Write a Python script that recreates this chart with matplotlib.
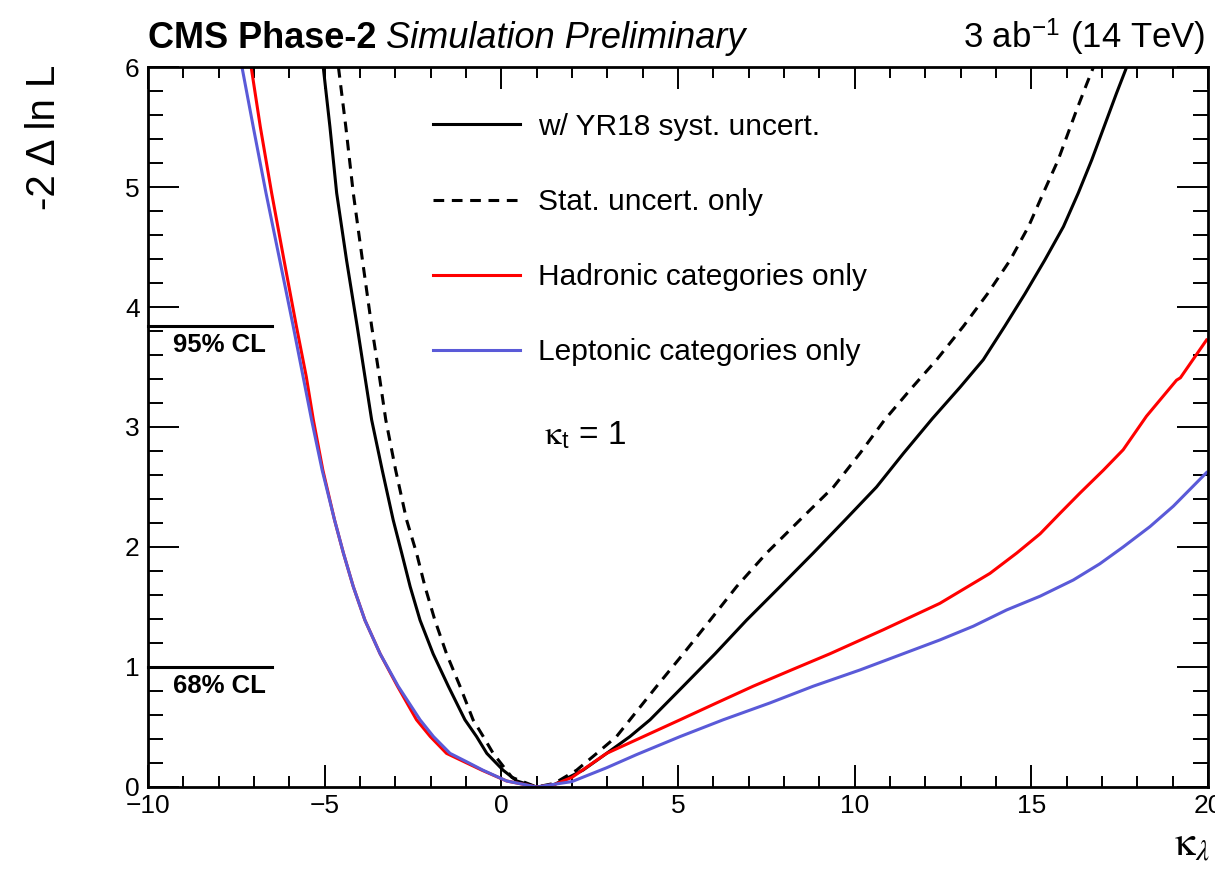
import matplotlib
matplotlib.use("Agg")
import matplotlib.pyplot as plt
from matplotlib.ticker import MultipleLocator

plt.rcParams['font.family'] = ['Liberation Sans', 'DejaVu Sans']
plt.rcParams['mathtext.fontset'] = 'stix'

# values (kappa_lambda, -2 dlnL)
syst_x = [-5.04, -4.85, -4.66, -4.38, -4.08, -3.86, -3.67, -3.37, -3.06, -2.82, -2.58, -2.30,
          -1.93, -1.50, -1.03, -0.70, -0.41, 0.05, 0.44, 1.0, 1.5, 2.31, 2.98, 3.64, 4.21,
          5.15, 6.05, 6.94, 7.89, 8.83, 9.73, 10.62, 11.38, 12.2, 12.98, 13.64, 14.25, 14.82,
          15.38, 15.91, 16.33, 16.71, 17.41, 17.70]
syst_y = [6.0, 5.50, 4.95, 4.39, 3.84, 3.42, 3.06, 2.64, 2.225, 1.95, 1.67, 1.39,
          1.11, 0.84, 0.56, 0.42, 0.28, 0.14, 0.05, 0.0, 0.02, 0.14, 0.28, 0.42, 0.56,
          0.84, 1.11, 1.39, 1.67, 1.95, 2.225, 2.50, 2.78, 3.07, 3.33, 3.56, 3.84, 4.11,
          4.39, 4.67, 4.95, 5.225, 5.78, 6.0]

stat_x = [-4.61, -4.40, -4.19, -3.93, -3.67, -3.45, -3.27, -2.99, -2.68, -2.40, -2.16, -1.88,
          -1.55, -1.17, -0.80, -0.51, -0.23, 0.3, 1.0, 1.5, 2.13, 2.70, 3.26, 3.64, 4.40,
          5.15, 5.91, 6.66, 7.51, 8.45, 9.40, 10.15, 10.85, 11.6, 12.32, 13.08, 13.76, 14.40,
          14.92, 15.34, 15.76, 16.28, 16.57, 16.76]
stat_y = [6.0, 5.50, 4.95, 4.39, 3.84, 3.42, 3.06, 2.64, 2.225, 1.95, 1.67, 1.39,
          1.11, 0.84, 0.56, 0.42, 0.28, 0.08, 0.0, 0.03, 0.14, 0.28, 0.42, 0.56, 0.84,
          1.11, 1.39, 1.67, 1.95, 2.225, 2.50, 2.78, 3.06, 3.32, 3.56, 3.84, 4.11, 4.39,
          4.67, 4.95, 5.225, 5.64, 5.86, 6.0]

had_x = [-7.08, -6.82, -6.50, -6.15, -5.80, -5.52, -5.32, -5.05, -4.72, -4.47, -4.19, -3.86,
         -3.43, -2.94, -2.40, -2.01, -1.55, -1.05, -0.55, 0.15, 1.0, 1.5, 2.0, 2.98, 4.02,
         5.06, 6.09, 7.13, 8.21, 9.30, 10.81, 12.41, 13.12, 13.83, 14.59, 15.25, 15.81, 16.38,
         17.04, 17.60, 18.26, 19.11, 19.22, 19.96]
had_y = [6.0, 5.50, 4.95, 4.39, 3.84, 3.42, 3.06, 2.64, 2.225, 1.95, 1.67, 1.39,
         1.11, 0.84, 0.56, 0.42, 0.28, 0.21, 0.14, 0.05, 0.0, 0.02, 0.08, 0.28, 0.42,
         0.56, 0.70, 0.84, 0.975, 1.11, 1.31, 1.53, 1.655, 1.78, 1.95, 2.11, 2.28, 2.45,
         2.64, 2.81, 3.09, 3.39, 3.41, 3.725]

lep_x = [-7.34, -7.02, -6.66, -6.27, -5.89, -5.61, -5.37, -5.07, -4.72, -4.47, -4.19, -3.86,
         -3.43, -2.92, -2.30, -1.92, -1.45, -0.98, -0.52, 0.15, 1.0, 2.0, 2.98, 3.83, 5.06,
         6.28, 7.60, 8.83, 10.15, 12.41, 13.36, 14.30, 15.25, 16.19, 16.94, 17.60, 18.36,
         19.02, 19.96]
lep_y = [6.0, 5.50, 4.95, 4.39, 3.84, 3.42, 3.06, 2.64, 2.225, 1.95, 1.67, 1.39,
         1.11, 0.84, 0.56, 0.42, 0.28, 0.21, 0.14, 0.05, 0.0, 0.045, 0.16, 0.27, 0.42,
         0.56, 0.70, 0.84, 0.975, 1.225, 1.34, 1.475, 1.59, 1.725, 1.86, 2.0, 2.17,
         2.34, 2.62]

labels = ["w/ YR18 syst. uncert.", "Stat. uncert. only",
          "Hadronic categories only", "Leptonic categories only"]
cl_levels = [3.84, 1.0]
cl_names = ["95% CL", "68% CL"]

fig = plt.figure(figsize=(12.15, 8.75), dpi=100)
ax = fig.add_axes([0.1218, 0.1006, 0.8724, 0.8228])

l1, = ax.plot(syst_x, syst_y, color='black', lw=2.2)
l2, = ax.plot(stat_x, stat_y, color='black', lw=2.2, dashes=(3.5, 2.5))
l3, = ax.plot(had_x, had_y, color='#ff0000', lw=2.2)
l4, = ax.plot(lep_x, lep_y, color='#5a5ad8', lw=2.2)

for lev, name in zip(cl_levels, cl_names):
    ax.plot([-10, -6.5], [lev, lev], color='black', lw=2.2, clip_on=False)
    ax.text(-9.3, lev - 0.16, name, fontsize=18.5, fontweight='bold', va='center', ha='left')

ax.text(1.2, 2.93, r'$\mathrm{\kappa}_{\mathregular{t}}$' + ' = 1', fontsize=24, va='center')

ax.legend([l1, l2, l3, l4], labels, loc='upper left', bbox_to_anchor=(0.255, 0.957),
          frameon=False, fontsize=21.5, handlelength=2.9, handletextpad=0.6,
          labelspacing=1.58, borderpad=0)

ax.set_xlim(-10, 20)
ax.set_ylim(0, 6)
ax.xaxis.set_major_locator(MultipleLocator(5))
ax.xaxis.set_minor_locator(MultipleLocator(1))
ax.yaxis.set_major_locator(MultipleLocator(1))
ax.yaxis.set_minor_locator(MultipleLocator(0.2))
ax.tick_params(which='both', direction='in', top=True, right=True, width=1.4, labelsize=19)
ax.tick_params(axis='x', which='major', length=16, pad=5)
ax.tick_params(axis='x', which='minor', length=8)
ax.tick_params(axis='y', which='major', length=22, pad=6)
ax.tick_params(axis='y', which='minor', length=11)
for s in ax.spines.values():
    s.set_linewidth(2)

# header
t1 = fig.text(0.1218, 0.945, "CMS Phase-2", fontsize=26, fontweight='bold', va='baseline')
fig.canvas.draw()
bb = t1.get_window_extent()
fig.text((bb.x1 + 10) / fig.bbox.width, 0.945, "Simulation Preliminary", fontsize=26,
         style='italic', va='baseline')
fig.text(0.992, 0.945, r'3 ab$^{\mathregular{-1}}$ (14 TeV)', fontsize=25, ha='right', va='baseline')

fig.text(0.036, 0.926, "-2 Δ ln L", fontsize=29, rotation=90, ha='center', va='top')
fig.text(0.996, 0.012, r'$\mathrm{\kappa}_{\lambda}$', fontsize=30, ha='right', va='bottom')

fig.savefig("out.png", dpi=100)
